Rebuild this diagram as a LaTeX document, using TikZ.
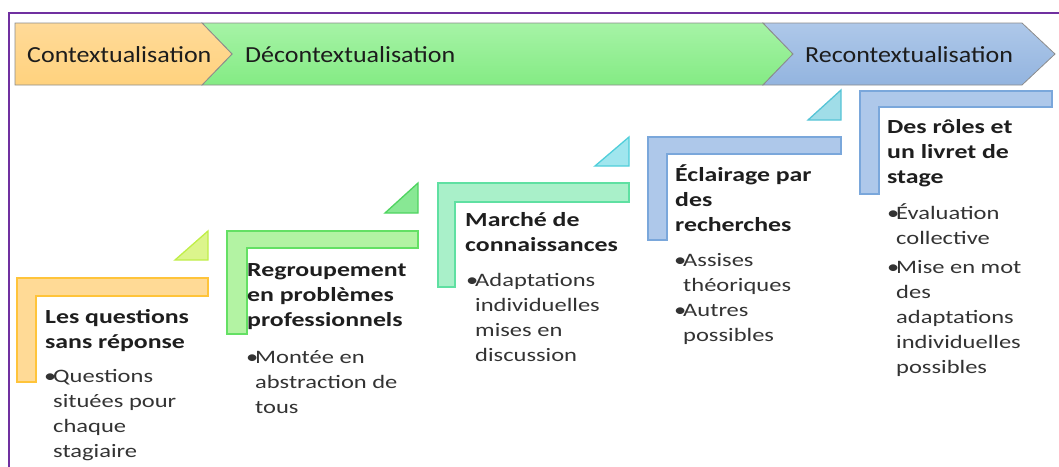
\documentclass[tikz,border=0pt]{standalone}
\usepackage{fontspec}
\setmainfont{Carlito}
\newfontfamily\stairfont[FakeStretch=1.29]{Carlito}
\newfontfamily\banfont[FakeStretch=1.13]{Carlito}
\definecolor{framecol}{HTML}{7030A0}
\definecolor{chevgray}{HTML}{8C8C8C}
\definecolor{orTop}{HTML}{FFDA98}
\definecolor{orBot}{HTML}{FFD27E}
\definecolor{grTop}{HTML}{A6F3A6}
\definecolor{grBot}{HTML}{84EB84}
\definecolor{blTop}{HTML}{AEC8E9}
\definecolor{blBot}{HTML}{93B4DF}
\definecolor{lOrF}{HTML}{FFDA96}
\definecolor{lOrD}{HTML}{FFC43A}
\definecolor{tYgF}{HTML}{DCF58C}
\definecolor{tYgD}{HTML}{C0EE48}
\definecolor{lGrF}{HTML}{B3F3A3}
\definecolor{lGrD}{HTML}{64E064}
\definecolor{tGrF}{HTML}{88E894}
\definecolor{tGrD}{HTML}{4FD460}
\definecolor{lMiF}{HTML}{A9F0C9}
\definecolor{lMiD}{HTML}{5FE0A2}
\definecolor{tCyF}{HTML}{A0E6EE}
\definecolor{tCyD}{HTML}{50CEDA}
\definecolor{lBlF}{HTML}{AEC8EA}
\definecolor{lBlD}{HTML}{7AA7DB}
\definecolor{tBcF}{HTML}{A0DDE8}
\definecolor{tBcD}{HTML}{56C4D6}
\definecolor{ttlcol}{HTML}{1E1E1E}
\definecolor{bulcol}{HTML}{333333}
\definecolor{bancol}{HTML}{1C1C1C}
\newcommand{\bl}{\makebox[9pt][l]{\textbullet}}
\begin{document}
\begin{tikzpicture}[x=1pt,y=-1pt,
  chev/.style={draw=chevgray, line width=0.8pt},
  lbar/.style={line width=1.3pt, line join=miter},
  tri/.style={line width=1.3pt, line join=miter},
  ttl/.style={anchor=base west, inner sep=0pt, font=\stairfont\bfseries\fontsize{20}{25}\selectfont, text=ttlcol},
  bul/.style={anchor=base west, inner sep=0pt, font=\stairfont\fontsize{19}{25}\selectfont, text=bulcol},
  ban/.style={anchor=base west, inner sep=0pt, font=\banfont\fontsize{23}{28}\selectfont, text=bancol}]
\useasboundingbox (0,0) rectangle (1059,466);
% frame
\draw[framecol, line width=1.6pt] (9,470) -- (9,13) -- (1065,13);
% banner
\shade[chev, top color=grTop, bottom color=grBot] (202,23) -- (763,23) -- (793,54) -- (763,85) -- (202,85) -- (232,54) -- cycle;
\shade[chev, top color=orTop, bottom color=orBot] (15,23) -- (202,23) -- (232,54) -- (202,85) -- (15,85) -- cycle;
\shade[chev, top color=blTop, bottom color=blBot] (763,23) -- (1022,23) -- (1055,54) -- (1022,85) -- (763,85) -- (793,54) -- cycle;
\node[ban] (b1) at (27,62) {Contextualisation};
\node[ban] (b2) at (245,62) {Décontextualisation};
\node[ban] (b3) at (805,62) {Recontextualisation};
% step 1
\draw[lbar, fill=lOrF, draw=lOrD] (17,278) -- (208,278) -- (208,296) -- (36,296) -- (36,382) -- (17,382) -- cycle;
\draw[tri, fill=tYgF, draw=tYgD] (175,260) -- (208,260) -- (208,231) -- cycle;
\node[ttl] (s1t) at (45,323) {\begin{tabular}[t]{@{}l@{}}Les questions\\sans réponse\end{tabular}};
\node[bul] (s1b) at (44,382) {\begin{tabular}[t]{@{}l@{}l@{}}\bl&Questions\\&situées pour\\&chaque\\&stagiaire\end{tabular}};
% step 2
\draw[lbar, fill=lGrF, draw=lGrD] (227,231) -- (418,231) -- (418,248) -- (247,248) -- (247,334) -- (227,334) -- cycle;
\draw[tri, fill=tGrF, draw=tGrD] (385,213) -- (418,213) -- (418,183) -- cycle;
\node[ttl] (s2t) at (247,276) {\begin{tabular}[t]{@{}l@{}}Regroupement\\en problèmes\\professionnels\end{tabular}};
\node[bul] (s2b) at (246,363) {\begin{tabular}[t]{@{}l@{}l@{}}\bl&Montée en\\&abstraction de\\&tous\end{tabular}};
% step 3
\draw[lbar, fill=lMiF, draw=lMiD] (438,183) -- (629,183) -- (629,202) -- (455,202) -- (455,287) -- (438,287) -- cycle;
\draw[tri, fill=tCyF, draw=tCyD] (595,166) -- (629,166) -- (629,137) -- cycle;
\node[ttl] (s3t) at (465,226) {\begin{tabular}[t]{@{}l@{}}Marché de\\connaissances\end{tabular}};
\node[bul] (s3b) at (466,286) {\begin{tabular}[t]{@{}l@{}l@{}}\bl&Adaptations\\&individuelles\\&mises en\\&discussion\end{tabular}};
% step 4
\draw[lbar, fill=lBlF, draw=lBlD] (648,137) -- (841,137) -- (841,154) -- (667,154) -- (667,240) -- (648,240) -- cycle;
\draw[tri, fill=tBcF, draw=tBcD] (808,120) -- (841,120) -- (841,90) -- cycle;
\node[ttl] (s4t) at (675,181) {\begin{tabular}[t]{@{}l@{}}Éclairage par\\des\\recherches\end{tabular}};
\node[bul] (s4b) at (674,266) {\begin{tabular}[t]{@{}l@{}l@{}}\bl&Assises\\&théoriques\end{tabular}};
\node[bul] (s4c) at (674,316) {\begin{tabular}[t]{@{}l@{}l@{}}\bl&Autres\\&possibles\end{tabular}};
% step 5
\draw[lbar, fill=lBlF, draw=lBlD] (860,91) -- (1052,91) -- (1052,107) -- (879,107) -- (879,194) -- (860,194) -- cycle;
\node[ttl] (s5t) at (887,133) {\begin{tabular}[t]{@{}l@{}}Des rôles et\\un livret de\\stage\end{tabular}};
\node[bul] (s5b) at (887,219) {\begin{tabular}[t]{@{}l@{}l@{}}\bl&Évaluation\\&collective\end{tabular}};
\node[bul] (s5c) at (887,273) {\begin{tabular}[t]{@{}l@{}l@{}}\bl&Mise en mot\\&des\\&adaptations\\&individuelles\\&possibles\end{tabular}};
\end{tikzpicture}
\end{document}
